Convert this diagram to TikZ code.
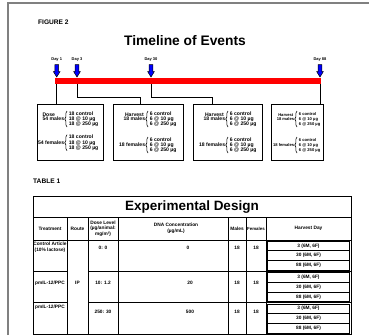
\documentclass[tikz,border=0pt]{standalone}
\usepackage{fontspec}
\setmainfont{Liberation Sans}
\usetikzlibrary{positioning, arrows.meta, decorations.pathreplacing, calc}

% one cohort: name, brace x, brace y, label, items
\newcommand{\cohort}[5]{%
  \node[items, anchor=west] (#1i) at (#2+1.5,#3) {#5};
  \draw[brc] (#2,#3+8) -- (#2,#3-8);
  \node[lbl, anchor=east] (#1l) at (#2-2.5,#3) {#4};
}
% one day marker: name, x, label
\newcommand{\dayarrow}[3]{%
  \draw[darrow] (#2-1.8,64.5) -- (#2+1.8,64.5) -- (#2+1.8,71.5) -- (#2+3.4,71.5)
    -- (#2,77) -- (#2-3.4,71.5) -- (#2-1.8,71.5) -- cycle;
  \coordinate (#1) at (#2,77);
  \node[daylbl] (#1t) at (#2,60) {#3};
}

\begin{document}
\begin{tikzpicture}[x=1pt, y=-1pt,
  lbl/.style={font=\fontsize{5.1}{5.1}\selectfont\bfseries, inner sep=0.2pt, align=left},
  items/.style={font=\fontsize{5.1}{5.1}\selectfont\bfseries, inner sep=0.2pt, align=left},
  brc/.style={decorate, decoration={brace, amplitude=2.2pt}, line width=0.6pt},
  grpbox/.style={draw, line width=0.9pt, inner sep=0pt, minimum height=56pt},
  darrow/.style={draw=black, fill=blue, line width=0.5pt},
  daylbl/.style={font=\fontsize{4}{5}\selectfont\bfseries, inner sep=0.5pt},
  conn/.style={line width=1pt},
  cell/.style={font=\fontsize{4.8}{5.6}\selectfont\bfseries, align=center, inner sep=0.3pt},
  tline/.style={line width=0.7pt},
  small/.style={font=\fontsize{4.1}{5}\selectfont\bfseries},
]
\useasboundingbox (0,0) rectangle (369,335);

% --- Page frame ---
\draw[gray, line width=1.2pt] (8,335) -- (8,3) -- (369,3);

% --- Timeline ---
\node[font=\fontsize{6.6}{8}\selectfont\bfseries, anchor=west, inner sep=0pt] (fig) at (38,22) {FIGURE 2};
\node[font=\fontsize{13.8}{16}\selectfont\bfseries, inner sep=0pt] (ttl) at (185,41) {Timeline of Events};

\node[fill=red, minimum width=266pt, minimum height=6pt, inner sep=0pt] (bar) at (188,81) {};

\dayarrow{a1}{56.7}{Day 1}
\dayarrow{a3}{77}{Day 3}
\dayarrow{a30}{151}{Day 30}
\dayarrow{a88}{320}{Day 88}

% --- Boxes ---
\node[grpbox, minimum width=66pt] (box1) at (70,132) {};
\node[grpbox, minimum width=70pt] (box2) at (148,132) {};
\node[grpbox, minimum width=69pt] (box3) at (227.5,132) {};
\node[grpbox, minimum width=52pt] (box4) at (297,132) {};

\coordinate (k2) at (140.7,97);
\coordinate (k3) at (212,97);
\draw[conn] (a1 |- bar.south) -- (a1 |- box1.north);
\draw[conn] (a3 |- bar.south) |- (k2) -- (k2 |- box2.north);
\draw[conn] (a30 |- bar.south) |- (k3) -- (k3 |- box3.north);
\draw[conn] (a88 |- bar.south) -- (a88 |- box4.north);

\cohort{b1m}{67}{119}{54 males}{18 control\\18 @ 10 µg\\18 @ 250 µg}
\node[lbl, anchor=south west] at (b1ml.north west) {Dose};
\cohort{b1f}{67}{142.7}{54 females}{18 control\\18 @ 10 µg\\18 @ 250 µg}

\cohort{b2m}{148}{119}{18 males}{6 control\\6 @ 10 µg\\6 @ 250 µg}
\node[lbl, anchor=south west] at ([xshift=1.5pt]b2ml.north west) {Harvest};
\cohort{b2f}{148}{145}{18 females}{6 control\\6 @ 10 µg\\6 @ 250 µg}

\cohort{b3m}{228}{119}{18 males}{6 control\\6 @ 10 µg\\6 @ 250 µg}
\node[lbl, anchor=south west] at ([xshift=1.5pt]b3ml.north west) {Harvest};
\cohort{b3f}{228}{145}{18 females}{6 control\\6 @ 10 µg\\6 @ 250 µg}

\begin{scope}[lbl/.append style={small}, items/.append style={small}]
\cohort{b4m}{297}{119}{18 males}{6 control\\6 @ 10 µg\\6 @ 250 µg}
\node[lbl, anchor=south west] at ([xshift=1.5pt]b4ml.north west) {Harvest};
\cohort{b4f}{297}{145}{18 females}{6 control\\6 @ 10 µg\\6 @ 250 µg}
\end{scope}

% --- Table ---
\node[font=\fontsize{6.6}{8}\selectfont\bfseries, anchor=west, inner sep=0pt] (tab) at (33,181) {TABLE 1};

\draw[tline] (33,196) rectangle (351,334);
\draw[tline] (33,217) -- (351,217);
\draw[tline] (33,240) -- (351,240);
\foreach \cx in {67,88,118,228,246,266}
  \draw[tline] (\cx,217) -- (\cx,334);
\foreach \gy in {271.3,302.7} {
  \draw[tline] (33,\gy) -- (67,\gy);
  \draw[tline] (88,\gy) -- (351,\gy);
}
% harvest day cells
\foreach \gy in {240,271.3,302.7} {
  \draw[line width=0.5pt] (267.3,\gy+1.2) rectangle (349.7,\gy+30.1);
  \draw[line width=0.5pt] (267.3,\gy+10.6) -- (349.7,\gy+10.6);
  \draw[line width=0.5pt] (267.3,\gy+20.6) -- (349.7,\gy+20.6);
  \node[cell] at (308.5,\gy+6) {3 (6M, 6F)};
  \node[cell] at (308.5,\gy+15.7) {30 (6M, 6F)};
  \node[cell] at (308.5,\gy+25.5) {88 (6M, 6F)};
}

\node[font=\fontsize{13.5}{16}\selectfont\bfseries, inner sep=0pt] (dsg) at (192,207) {Experimental Design};

\node[cell] (h1) at (50,228.5) {Treatment};
\node[cell] (h2) at (77.5,228.5) {Route};
\node[cell] (h3) at (103,228.5) {Dose Level\\(µg/animal:\\mg/m²)};
\node[cell] (h4) at (176,228.5) {DNA Concentration\\(µg/mL)};
\node[cell] (h5) at (237,228.5) {Males};
\node[cell, font=\fontsize{4.4}{5.6}\selectfont\bfseries] (h6) at (256,228.5) {Females};
\node[cell] (h7) at (308.5,228.5) {Harvest Day};

\node[cell] (t1) at (50,247.5) {Control Article\\(10\% lactose)};
\node[cell] (t2) at (50,283) {pmIL-12/PPC};
\node[cell] (t3) at (50,307) {pmIL-12/PPC};
\node[cell] (rt) at (77.5,283) {IP};

\node[cell] (d1) at (103,248) {0: 0};
\node[cell] (d2) at (103,283) {10: 1.2};
\node[cell] (d3) at (103,312) {250: 30};
\node[cell] (c1) at (188,248) {0};
\node[cell] (c2) at (190,283) {20};
\node[cell] (c3) at (190,312) {500};
\node[cell] (m1) at (237,248) {18};
\node[cell] (m2) at (237,283) {18};
\node[cell] (m3) at (237,312) {18};
\node[cell] (f1) at (256,248) {18};
\node[cell] (f2) at (256,283) {18};
\node[cell] (f3) at (256,312) {18};

\end{tikzpicture}
\end{document}
